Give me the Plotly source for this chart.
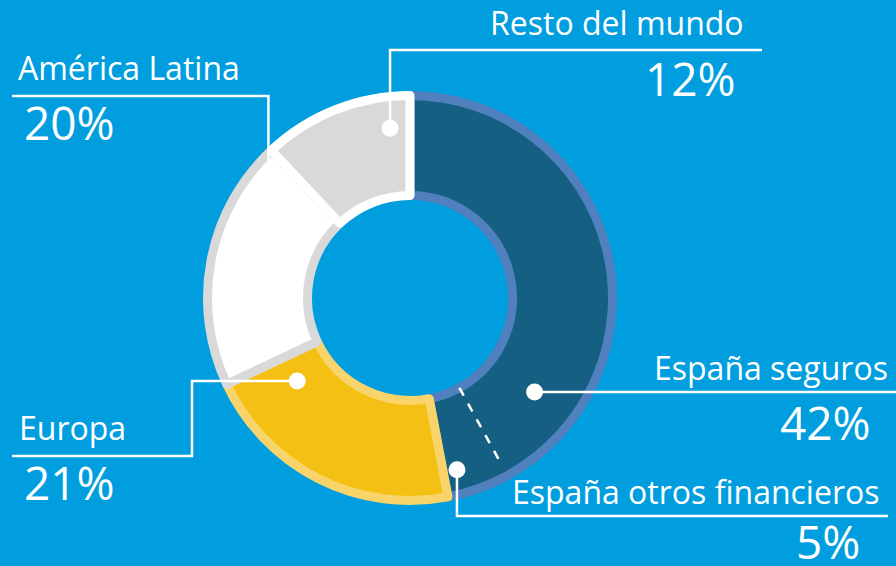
import math
import plotly.graph_objects as go

# ---------------- data ----------------
categories = ["España seguros", "España otros financieros", "Europa",
              "América Latina", "Resto del mundo"]
values = [42, 5, 21, 20, 12]
pct_labels = ["42%", "5%", "21%", "20%", "12%"]

# ---------------- style ----------------
W, H = 896, 566
BG = "#019EDF"
CX, CY = 410, 298          # donut centre (px)
R_OUT = 202.5              # outer path radius (px)
R_IN = 102.5               # inner path radius (px)
LW = 9                     # slice outline width

fills = ["#156082", "#156082", "#F4C014", "#FFFFFF", "#D9D9D9"]
borders = ["#5080BE", "#5080BE", "#F9D46A", "#D9D9D9", "#FFFFFF"]

# where the leader dot sits inside each slice (fraction of the slice, radius px)
dot_frac = [0.84, 0.75, 0.853, 0.85, 0.845]
dot_rad = [156, 178, 140, 175, 171]

# label layout: line y, line end x, elbow x (None = straight up/down from dot),
# text side, text x, text baseline, pct x, pct baseline
label_layout = [
    dict(line_y=392, end_x=896, elbow=None, side="right", tx=890, tb=381, px_=873, pb=440),
    dict(line_y=516, end_x=888, elbow=None, side="right", tx=881, tb=505, px_=862, pb=559),
    dict(line_y=456, end_x=12, elbow=192, side="left", tx=17, tb=441, px_=22, pb=500),
    dict(line_y=96, end_x=12, elbow=None, side="left", tx=16, tb=81, px_=22, pb=140),
    dict(line_y=50, end_x=762, elbow=None, side="right", tx=746, tb=36, px_=738, pb=96),
]

FONT = "'Open Sans', sans-serif"
LABEL_SIZE = 32
PCT_SIZE = 46


def pxx(x):
    return x / W


def pyy(y):
    return 1 - y / H


def polar(theta_deg, r):
    t = math.radians(theta_deg)
    return CX + r * math.sin(t), CY - r * math.cos(t)


fig = go.Figure(go.Pie(
    labels=categories, values=values, sort=False, direction="clockwise",
    rotation=0, hole=R_IN / R_OUT,
    marker=dict(colors=fills, line=dict(color=borders, width=LW)),
    textinfo="none", hoverinfo="label+percent", showlegend=False,
    domain=dict(x=[pxx(CX - R_OUT), pxx(CX + R_OUT)],
                y=[pyy(CY + R_OUT), pyy(CY - R_OUT)]),
))

total = sum(values)
starts = []
acc = 0
for v in values:
    starts.append(acc / total * 360)
    acc += v
spans = [v / total * 360 for v in values]

shapes = []
annotations = []

# dashed separator between the two "España" slices
theta_b = starts[1]
a0 = polar(theta_b, R_IN + LW / 2)
a1 = polar(theta_b, R_OUT - LW / 2)
shapes.append(dict(type="line", xref="paper", yref="paper",
                   x0=pxx(a0[0]), y0=pyy(a0[1]), x1=pxx(a1[0]), y1=pyy(a1[1]),
                   line=dict(color=fills[0], width=LW + 1)))
b0 = polar(theta_b, R_IN)
b1 = polar(theta_b, R_OUT - 12)
shapes.append(dict(type="line", xref="paper", yref="paper",
                   x0=pxx(b0[0]), y0=pyy(b0[1]), x1=pxx(b1[0]), y1=pyy(b1[1]),
                   line=dict(color="white", width=2.5, dash="dash")))

for i, cat in enumerate(categories):
    L = label_layout[i]
    th = starts[i] + dot_frac[i] * spans[i]
    dx, dy = polar(th, dot_rad[i])
    ex = L["elbow"] if L["elbow"] is not None else dx
    pts = [(dx, dy), (ex, dy), (ex, L["line_y"]), (L["end_x"], L["line_y"])]
    path = "M " + " L ".join(f"{pxx(x):.5f},{pyy(y):.5f}" for x, y in pts)
    shapes.append(dict(type="path", xref="paper", yref="paper", path=path,
                       line=dict(color="white", width=2.5)))
    rdot = 8.5
    shapes.append(dict(type="circle", xref="paper", yref="paper",
                       x0=pxx(dx - rdot), x1=pxx(dx + rdot),
                       y0=pyy(dy + rdot), y1=pyy(dy - rdot),
                       fillcolor="white", line=dict(width=0)))
    anchor = "right" if L["side"] == "right" else "left"
    annotations.append(dict(
        xref="paper", yref="paper", x=pxx(L["tx"]),
        y=pyy(L["tb"] - 0.33 * LABEL_SIZE - 3),
        xanchor=anchor, yanchor="middle", text=cat, showarrow=False,
        font=dict(family=FONT, size=LABEL_SIZE, color="white")))
    annotations.append(dict(
        xref="paper", yref="paper", x=pxx(L["px_"]),
        y=pyy(L["pb"] - 0.33 * PCT_SIZE - 3),
        xanchor=anchor, yanchor="middle", text=pct_labels[i], showarrow=False,
        font=dict(family=FONT, size=PCT_SIZE, color="white")))

fig.update_layout(
    width=W, height=H, margin=dict(l=0, r=0, t=0, b=0),
    paper_bgcolor=BG, plot_bgcolor=BG,
    shapes=shapes, annotations=annotations, showlegend=False,
)

fig.write_html(
    "out.html",
    config={"displayModeBar": False},
    post_script="document.body.style.margin='0';document.body.style.overflow='hidden';",
)
